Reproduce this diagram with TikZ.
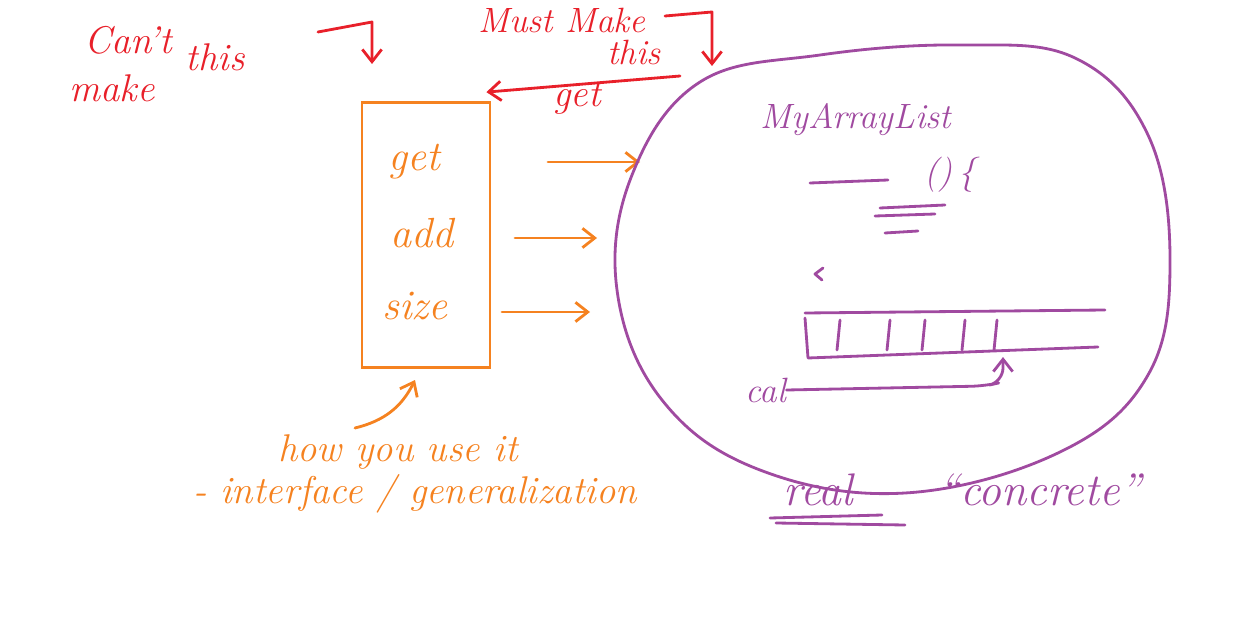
\documentclass[tikz,border=0pt]{standalone}
\usetikzlibrary{arrows.meta}
\tikzset{>={Straight Barb[length=7pt,width=11pt]}}
\definecolor{redink}{HTML}{E8202A}
\definecolor{orangeink}{HTML}{F58220}
\definecolor{purpleink}{HTML}{A04AA0}
\newcommand{\hand}[1]{\fontsize{#1}{#1}\selectfont\itshape}

\begin{document}
\begin{tikzpicture}[x=0.02cm,y=-0.02cm,
  ink/.style={line width=1.6pt,line cap=round,line join=round},
  rednote/.style={redink,inner sep=0pt,font=\hand{22}},
  orangenote/.style={orangeink,inner sep=0pt,font=\hand{22}},
  purplenote/.style={purpleink,inner sep=0pt,font=\hand{20}}]
  \useasboundingbox (0,0) rectangle (1246,621);
  % interface box
  \node[draw=orangeink,line width=1.6pt,minimum width=2.56cm,minimum height=5.3cm,inner sep=0pt] (iface) at (426,235) {};
  \node[orangenote,font=\hand{24}] (get) at (414,162) {get};
  \node[orangenote,font=\hand{24}] (add) at (422,233) {add};
  \node[orangenote,font=\hand{24}] (size) at (415,306) {size};
  \coordinate (getfrom) at (548,162);
  \coordinate (getto) at (640,162);
  \coordinate (addfrom) at (515,238);
  \coordinate (addto) at (597,238);
  \coordinate (sizefrom) at (502,312);
  \coordinate (sizeto) at (590,312);
  \draw[->,ink,orangeink] (getfrom) -- (getto);
  \draw[->,ink,orangeink] (addfrom) -- (addto);
  \draw[->,ink,orangeink] (sizefrom) -- (sizeto);
  \coordinate (usefrom) at (355,428);
  \coordinate (useto) at (415,380);
  \draw[->,ink,orangeink] (usefrom) to[bend right=25] (useto);
  \node[orangenote] (howuse) at (398,452) {how you use it};
  \node[orangenote] (general) at (415,494) {- interface / generalization};
  % can't / must
  \node[rednote] (cant) at (128,40) {Can't};
  \node[rednote] (make) at (112,88) {make};
  \node[rednote] (this) at (215,57) {this};
  \draw[->,ink,redink] (318,32) -- (372,22) -- (372,64);
  \node[rednote,font=\hand{20}] (must) at (562,20) {Must Make};
  \node[rednote,font=\hand{20}] (mthis) at (634,52) {this};
  \draw[->,ink,redink] (665,16) -- (712,12) -- (712,66);
  \node[rednote] (rget) at (577,98) {get};
  \draw[->,ink,redink] (680,76) -- ([shift={(-5,-9)}]iface.north east);
  % concrete class
  \draw[ink,purpleink] plot[smooth cycle,tension=0.65] coordinates {
    (700,82) (820,55) (960,45) (1075,58) (1148,135) (1170,260)
    (1148,375) (1060,452) (905,493) (760,470) (662,400) (617,290) (632,175)};
  \node[purplenote] (mylist) at (856,120) {MyArrayList};
  \draw[ink,purpleink] (810,183) -- (888,180);
  \node[purplenote] (brace) at (950,175) {()\,\{};
  \draw[ink,purpleink] (880,208) -- (945,205);
  \draw[ink,purpleink] (875,216) -- (935,214);
  \draw[ink,purpleink] (885,233) -- (918,231);
  \draw[ink,purpleink] (823,268) -- (815,274) -- (822,280);
  \draw[ink,purpleink] (805,313) -- (1105,310);
  \draw[ink,purpleink] (805,318) -- (808,358) -- (1098,347);
  \foreach \x in {840,890,925,965,997}
    \draw[ink,purpleink] (\x,320) -- (\x-3,350);
  \node[purplenote] (cal) at (766,390) {cal};
  \coordinate (slot) at (1003,357);
  \draw[->,ink,purpleink,rounded corners=8pt] (cal.east) -- (985,386) -- (1003,382) -- (slot);
  \node[purplenote,font=\hand{26}] (real) at (818,490) {real};
  \draw[ink,purpleink] (770,518) -- (882,515);
  \draw[ink,purpleink] (776,523) -- (905,525);
  \node[purplenote,font=\hand{26}] (concrete) at (1040,490) {``concrete''};
\end{tikzpicture}
\end{document}
